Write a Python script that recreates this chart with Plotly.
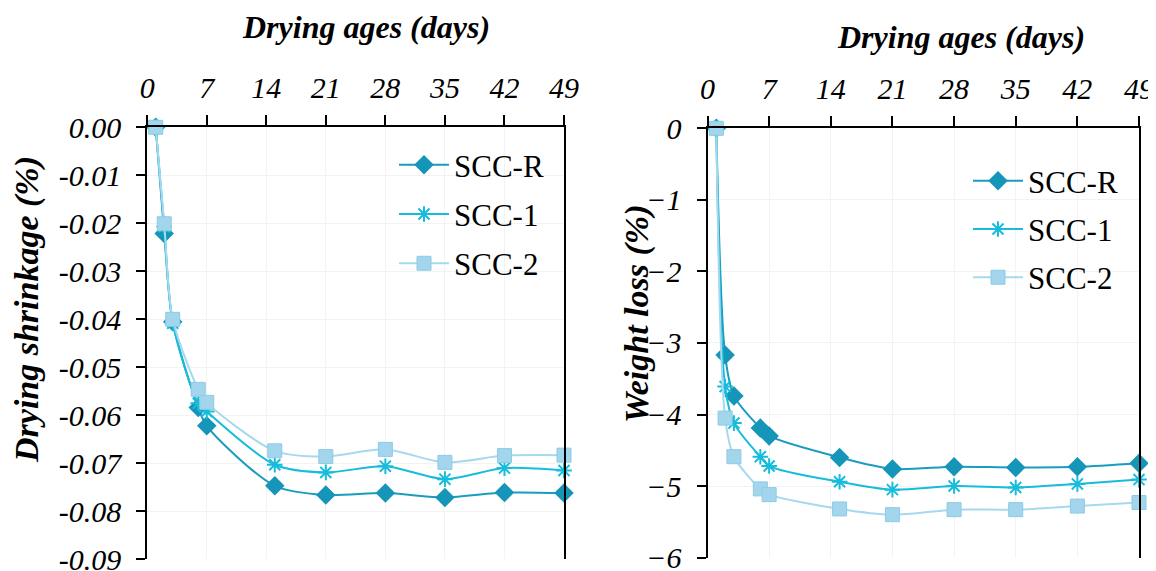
import plotly.graph_objects as go

days = [1, 2, 3, 6, 7, 15, 21, 28, 35, 42, 49]

shrink_R = [0.0, -0.0221, -0.0405, -0.0584, -0.0622, -0.0747, -0.0766, -0.0762, -0.0771, -0.0761, -0.0762]
shrink_1 = [0.0, -0.0207, -0.0408, -0.0575, -0.0592, -0.0703, -0.0719, -0.0706, -0.0733, -0.0710, -0.0715]
shrink_2 = [0.0, -0.0201, -0.0400, -0.0546, -0.0573, -0.0674, -0.0686, -0.0671, -0.0698, -0.0684, -0.0683]

wloss_R = [0.0, -3.17, -3.74, -4.19, -4.30, -4.60, -4.76, -4.73, -4.74, -4.73, -4.68]
wloss_1 = [0.0, -3.61, -4.12, -4.59, -4.72, -4.94, -5.05, -5.00, -5.02, -4.97, -4.91]
wloss_2 = [0.0, -4.05, -4.59, -5.04, -5.12, -5.32, -5.40, -5.33, -5.33, -5.28, -5.23]

names = ["SCC-R", "SCC-1", "SCC-2"]
x_ticks = [0, 7, 14, 21, 28, 35, 42, 49]
left_yticks = [0, -0.01, -0.02, -0.03, -0.04, -0.05, -0.06, -0.07, -0.08, -0.09]
left_ytext = ["0.00", "-0.01", "-0.02", "-0.03", "-0.04", "-0.05", "-0.06", "-0.07", "-0.08", "-0.09"]
right_yticks = [0, -1, -2, -3, -4, -5, -6]

# page body has an 8px margin: figure occupies screen pixels 8..1156 x 8..571
OFF = 8
W, H = 1156 - OFF, 571 - OFF


def fx(px):
    return (px - OFF) / W


def fy(py):
    return 1 - (py - OFF) / H


FONT = "Liberation Serif, Times New Roman, serif"
line_colors = ["#1a9cbe", "#17bcdc", "#a6d9ee"]
marker_styles = [
    dict(symbol="diamond", size=15, color="#1596b8", line=dict(width=0)),
    dict(symbol="asterisk-open", size=13, color="#17bcdc", line=dict(width=2, color="#17bcdc")),
    dict(symbol="square", size=14, color="#a3d6ec", line=dict(width=1, color="#8ccbe4")),
]

fig = go.Figure()

left_series = [shrink_R, shrink_1, shrink_2]
right_series = [wloss_R, wloss_1, wloss_2]

for i, (name, ys) in enumerate(zip(names, left_series)):
    fig.add_trace(go.Scatter(
        x=days, y=ys, name=name, mode="lines+markers",
        line=dict(color=line_colors[i], width=2, shape="spline", smoothing=0.8),
        marker=marker_styles[i], xaxis="x", yaxis="y", legend="legend",
        legendgroup="L" + name, cliponaxis=False,
    ))
for i, (name, ys) in enumerate(zip(names, right_series)):
    fig.add_trace(go.Scatter(
        x=days, y=ys, name=name, mode="lines+markers",
        line=dict(color=line_colors[i], width=2, shape="spline", smoothing=0.8),
        marker=marker_styles[i], xaxis="x2", yaxis="y2", legend="legend2",
        legendgroup="R" + name, cliponaxis=False,
    ))

tickfont = dict(family=FONT, size=30, color="black", style="italic")
grid = "#f3f3f3"

xcommon = dict(range=[0, 49], tickvals=x_ticks, side="top", showline=True, linecolor="black",
               linewidth=2, ticks="outside", ticklen=10, tickwidth=1.5, tickcolor="black",
               showgrid=True, gridcolor=grid, gridwidth=1, zeroline=False, tickfont=tickfont,
               ticklabelstandoff=5, automargin=False, ticklabeloverflow="allow")

ycommon = dict(showline=True, linecolor="black", linewidth=2, mirror=True,
               ticks="outside", ticklen=9, tickwidth=1.5, tickcolor="black", showgrid=True,
               gridcolor=grid, zeroline=False, tickfont=tickfont, ticklabelstandoff=9,
               automargin=False, ticklabeloverflow="allow")

fig.update_layout(
    width=W, height=H,
    margin=dict(l=0, r=0, t=0, b=0, pad=0, autoexpand=False),
    paper_bgcolor="white", plot_bgcolor="white",
    xaxis=dict(domain=[fx(147.2), fx(564)], anchor="y", **xcommon),
    yaxis=dict(domain=[fy(559.3), fy(127.3)], anchor="x", range=[-0.09, 0], tickvals=left_yticks,
               ticktext=left_ytext, **ycommon),
    xaxis2=dict(domain=[fx(707.5), fx(1139)], anchor="y2", **xcommon),
    yaxis2=dict(domain=[fy(557.6), fy(128.3)], anchor="x2", range=[-6, 0], tickvals=right_yticks,
                **ycommon),
    legend=dict(x=fx(394), y=fy(138), xanchor="left", yanchor="top", bgcolor="rgba(255,255,255,0)",
                font=dict(family=FONT, size=31, color="black"), tracegroupgap=6,
                itemwidth=50),
    legend2=dict(x=fx(968), y=fy(154), xanchor="left", yanchor="top", bgcolor="rgba(255,255,255,0)",
                 font=dict(family=FONT, size=31, color="black"), tracegroupgap=5,
                 itemwidth=50),
    showlegend=True,
)

xtitlefont = dict(family=FONT, size=32, color="black", weight="bold", style="italic")
ytitlefont = dict(family=FONT, size=34, color="black", weight="bold", style="italic")
fig.add_annotation(text="Drying ages (days)", xref="paper", yref="paper", x=fx(366), y=fy(27),
                   xanchor="center", yanchor="middle", showarrow=False, font=xtitlefont)
fig.add_annotation(text="Drying ages (days)", xref="paper", yref="paper", x=fx(961), y=fy(37),
                   xanchor="center", yanchor="middle", showarrow=False, font=xtitlefont)
fig.add_annotation(text="Drying shrinkage (%)", xref="paper", yref="paper", x=fx(27), y=fy(310),
                   xanchor="center", yanchor="middle", showarrow=False, textangle=-90, font=ytitlefont)
fig.add_annotation(text="Weight loss (%)", xref="paper", yref="paper", x=fx(637), y=fy(314),
                   xanchor="center", yanchor="middle", showarrow=False, textangle=-90, font=ytitlefont)

fig.write_html("out.html")
